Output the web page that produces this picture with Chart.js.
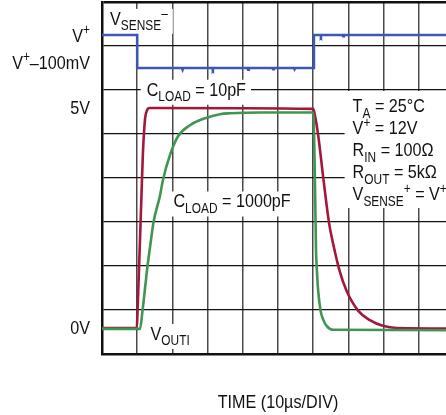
<!DOCTYPE html>
<html>
<head>
<meta charset="utf-8">
<script src="https://cdn.jsdelivr.net/npm/chart.js@4.4.1/dist/chart.umd.min.js"></script>
<style>
  html, body { margin: 0; padding: 0; background: #fff; overflow: hidden; }
  #wrap { width: 460px; height: 415px; }
</style>
</head>
<body>
<div id="wrap"><canvas id="chart" width="460" height="415"></canvas></div>
<script>
// time in µs (10µs/DIV), output in volts (1V/DIV, 0V sits a bit above the bottom line)
const Y_MIN = -0.57;
const Y_MAX = 7.43;
const VSENSE_HIGH = 6.68;   // V+ trace position
const VSENSE_LOW = 5.93;    // V+ - 100mV trace position

const vsenseTime  = [0, 10.0, 10.0, 22.7, 22.9, 23.1, 31.3, 31.5, 31.7, 41.3, 41.5, 41.7, 48.4, 48.6, 48.8, 54.5, 54.7, 54.9, 60.2, 60.2, 62.0, 62.2, 62.4, 68.3, 68.5, 68.7, 100];
const vsenseLevel = [6.68, 6.68, 5.93, 5.93, 5.89, 5.93, 5.93, 5.9, 5.93, 5.93, 5.89, 5.93, 5.93, 5.9, 5.93, 5.93, 5.9, 5.93, 5.93, 6.68, 6.68, 6.65, 6.68, 6.68, 6.65, 6.68, 6.68];

const load10Time  = [0, 9.9, 10.1, 10.7, 11.2, 11.6, 12.2, 12.8, 13.5, 60.0, 60.5, 61.4, 62.9, 64.5, 65.9, 67.5, 69.5, 72.8, 76.1, 79.8, 83.7, 100];
const load10Volts = [0.02, 0.02, 0.41, 1.8, 3.0, 3.95, 4.75, 4.97, 5.02, 5.0, 4.85, 4.41, 3.41, 2.41, 1.85, 1.32, 0.86, 0.41, 0.20, 0.07, 0.02, 0.01];

const load1000Time  = [0, 10.8, 11.5, 12.4, 12.9, 13.8, 14.6, 16.5, 17.3, 19.3, 21.6, 25.0, 29.3, 33.5, 36.4, 45.0, 60.0, 60.3, 60.6, 60.8, 61.0, 61.4, 62.1, 62.9, 63.8, 65.7, 100];
const load1000Volts = [0, 0, 0.41, 1.05, 1.41, 1.95, 2.41, 3.04, 3.38, 3.95, 4.38, 4.63, 4.79, 4.88, 4.9, 4.92, 4.92, 4.2, 2.8, 1.79, 1.41, 0.88, 0.41, 0.20, 0.07, -0.02, -0.03];

const FONT = '"Liberation Sans", Arimo, sans-serif';
const SIZE = 19;
const SX = 0.85;   // condensed look

// rich text pieces: [text, '' | 'sub' | 'sup']
const yLabels = [
  { parts: [['V', ''], ['+', 'sup']], value: VSENSE_HIGH, dy: 2 },
  { parts: [['V', ''], ['+', 'sup'], ['–100mV', '']], value: VSENSE_LOW, dy: -4 },
  { parts: [['5V', '']], value: 5, dy: 0 },
  { parts: [['0V', '']], value: 0, dy: 0 }
];

const notes = [
  { parts: [['V', ''], ['SENSE', 'sub'], ['–', 'sup']], t: 2.3, v: 6.91 },
  { parts: [['C', ''], ['LOAD', 'sub'], [' = 10pF', '']], t: 12.7, v: 5.30 },
  { parts: [['C', ''], ['LOAD', 'sub'], [' = 1000pF', '']], t: 20.3, v: 2.76 },
  { parts: [['V', ''], ['OUTI', 'sub']], t: 13.8, v: -0.25 }
];

const conditions = [
  [['T', ''], ['A', 'sub'], [' = 25°C', '']],
  [['V', ''], ['+', 'sup'], [' = 12V', '']],
  [['R', ''], ['IN', 'sub'], [' = 100Ω', '']],
  [['R', ''], ['OUT', 'sub'], [' = 5kΩ', '']],
  [['V', ''], ['SENSE', 'sub'], ['+', 'sup'], [' = V', ''], ['+', 'sup']]
];

const axisTitle = 'TIME (10µs/DIV)';

function pieceFont(kind) {
  const s = kind ? Math.round(SIZE * 0.74) : SIZE;
  return s + 'px ' + FONT;
}

function richWidth(ctx, parts) {
  let w = 0;
  parts.forEach(([t, kind]) => { ctx.font = pieceFont(kind); w += ctx.measureText(t).width; });
  return w * SX;
}

function drawRich(ctx, parts, x, y) {
  ctx.save();
  ctx.translate(x, y);
  ctx.scale(SX, 1);
  let cx = 0;
  parts.forEach(([t, kind]) => {
    ctx.font = pieceFont(kind);
    const dy = kind === 'sub' ? SIZE * 0.29 : kind === 'sup' ? -SIZE * 0.36 : 0;
    ctx.fillText(t, cx, dy);
    cx += ctx.measureText(t).width;
  });
  ctx.restore();
}

const labelPlugin = {
  id: 'scopeLabels',
  beforeDatasetsDraw(chart) {
    const ctx = chart.ctx;
    const xs = chart.scales.x, ys = chart.scales.y;
    ctx.save();
    ctx.textBaseline = 'alphabetic';
    notes.forEach(n => {
      const x = xs.getPixelForValue(n.t), y = ys.getPixelForValue(n.v);
      const w = richWidth(ctx, n.parts);
      ctx.fillStyle = '#fff';
      ctx.fillRect(x - 6, y - 16, w + 11, 25);
      ctx.fillStyle = '#111';
      drawRich(ctx, n.parts, x, y);
    });
    // test conditions block
    const bx = xs.getPixelForValue(71.2);
    const by = ys.getPixelForValue(4.93);
    ctx.fillStyle = '#fff';
    ctx.fillRect(bx - 8, by - 21, 200, 117);
    ctx.fillStyle = '#111';
    conditions.forEach((parts, i) => drawRich(ctx, parts, bx, by + i * 22));
    ctx.restore();
  },
  afterDraw(chart) {
    const ctx = chart.ctx;
    const ys = chart.scales.y;
    const area = chart.chartArea;
    ctx.save();
    ctx.fillStyle = '#111';
    ctx.textBaseline = 'middle';
    yLabels.forEach(l => {
      const w = richWidth(ctx, l.parts);
      drawRich(ctx, l.parts, 90 - w, ys.getPixelForValue(l.value) + l.dy);
    });
    ctx.textBaseline = 'alphabetic';
    const tw = richWidth(ctx, [[axisTitle, '']]);
    drawRich(ctx, [[axisTitle, '']], (area.left + area.right) / 2 - tw / 2, area.bottom + 54);
    ctx.restore();
  }
};

const toPoints = (xs, ys) => xs.map((x, i) => ({ x: x, y: ys[i] }));

new Chart(document.getElementById('chart'), {
  type: 'line',
  data: {
    datasets: [
      {
        label: 'VSENSE-',
        data: toPoints(vsenseTime, vsenseLevel),
        borderColor: '#3d58b4',
        borderWidth: 2.6,
        pointRadius: 0,
        tension: 0
      },
      {
        label: 'CLOAD = 1000pF',
        data: toPoints(load1000Time, load1000Volts),
        borderColor: '#3f9552',
        borderWidth: 2.6,
        pointRadius: 0,
        cubicInterpolationMode: 'monotone'
      },
      {
        label: 'CLOAD = 10pF',
        data: toPoints(load10Time, load10Volts),
        borderColor: '#a3173c',
        borderWidth: 2.6,
        pointRadius: 0,
        cubicInterpolationMode: 'monotone'
      }
    ]
  },
  options: {
    responsive: false,
    animation: false,
    events: [],
    layout: { padding: { left: 102, top: 2, right: 6, bottom: 61 } },
    plugins: { legend: { display: false }, tooltip: { enabled: false } },
    scales: {
      x: {
        type: 'linear',
        min: 0,
        max: 100,
        ticks: { display: false, stepSize: 10 },
        grid: { color: '#4a4a4a', lineWidth: 1.5, drawTicks: false },
        border: { display: true, color: '#111', width: 2.5 }
      },
      y: {
        type: 'linear',
        min: Y_MIN,
        max: Y_MAX,
        afterBuildTicks(scale) {
          const t = [];
          for (let k = 0; k <= 8; k++) t.push({ value: Y_MIN + k });
          scale.ticks = t;
        },
        ticks: { display: false },
        grid: {
          color: '#111',
          lineWidth: ctx => (ctx.index === 8 ? 2.5 : 1.3),
          drawTicks: false
        },
        border: { display: true, color: '#111', width: 2.5 }
      }
    }
  },
  plugins: [labelPlugin]
});
</script>
</body>
</html>
